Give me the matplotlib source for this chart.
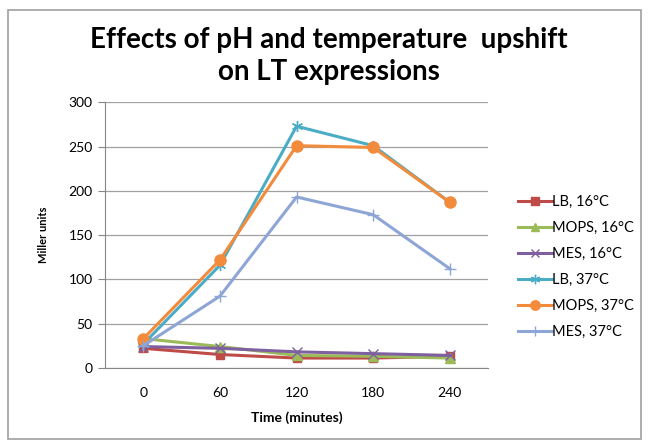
import matplotlib
matplotlib.use('Agg')
import matplotlib.pyplot as plt
import matplotlib.patches as patches

plt.rcParams['font.family'] = ['Lato', 'DejaVu Sans']

# data
times = ['0', '60', '120', '180', '240']
lb_16 = [22, 15, 11, 11, 13]
mops_16 = [33, 24, 14, 13, 11]
mes_16 = [24, 22, 18, 16, 14]
lb_37 = [27, 116, 273, 251, 187]
mops_37 = [33, 122, 251, 249, 187]
mes_37 = [25, 81, 193, 173, 112]

series = [
    ('LB, 16°C', lb_16, '#BE4B48', 's', 6),
    ('MOPS, 16°C', mops_16, '#9BBB59', '^', 7),
    ('MES, 16°C', mes_16, '#7E5FA0', 'x', 7),
    ('LB, 37°C', lb_37, '#4BACC6', (6, 2, 0), 8),
    ('MOPS, 37°C', mops_37, '#F38B3C', 'o', 8),
    ('MES, 37°C', mes_37, '#8EA6D6', '+', 8),
]

fig = plt.figure(figsize=(6.49, 4.41), dpi=100)
ax = fig.add_axes([0.162, 0.166, 0.59, 0.602])

x = list(range(len(times)))
for name, vals, col, mk, ms in series:
    ax.plot(x, vals, color=col, marker=mk, markersize=ms, linewidth=2.2,
            markeredgewidth=1.0, markeredgecolor=col, label=name)

ax.set_xlim(-0.5, len(times) - 0.5)
ax.set_ylim(0, 300)
ax.set_yticks(range(0, 301, 50))
ax.set_xticks(x)
ax.set_xticklabels(times)
ax.tick_params(axis='x', length=0, pad=14, labelsize=10)
ax.tick_params(axis='y', length=5, color='#868686', labelsize=10, pad=4)
ax.grid(axis='y', color='#a0a0a0', linewidth=0.9)
ax.set_axisbelow(True)
for s in ['top', 'right']:
    ax.spines[s].set_visible(False)
ax.spines['left'].set_color('#868686')
ax.spines['bottom'].set_color('#868686')

ax.set_xlabel('Time (minutes)', fontsize=10, fontweight='bold', labelpad=9)
ax.set_ylabel('Miller units', fontsize=8, fontweight='bold', labelpad=14)

fig.text(0.507, 0.91, 'Effects of pH and temperature  upshift', ha='center',
         va='center', fontsize=20, fontweight='bold')
fig.text(0.507, 0.837, 'on LT expressions', ha='center', va='center',
         fontsize=20, fontweight='bold')

ax.legend(loc='center left', bbox_to_anchor=(0.778, 0.395),
          bbox_transform=fig.transFigure, frameon=False, fontsize=10.5,
          handlelength=2.3, handletextpad=0.0, labelspacing=0.82,
          markerscale=0.85)

border = patches.Rectangle((8 / 649, 2 / 441), 633 / 649, 429 / 441,
                           transform=fig.transFigure, fill=False,
                           edgecolor='#a0a0a0', linewidth=1.2)
fig.patches.append(border)

fig.savefig('out.png', dpi=100)
